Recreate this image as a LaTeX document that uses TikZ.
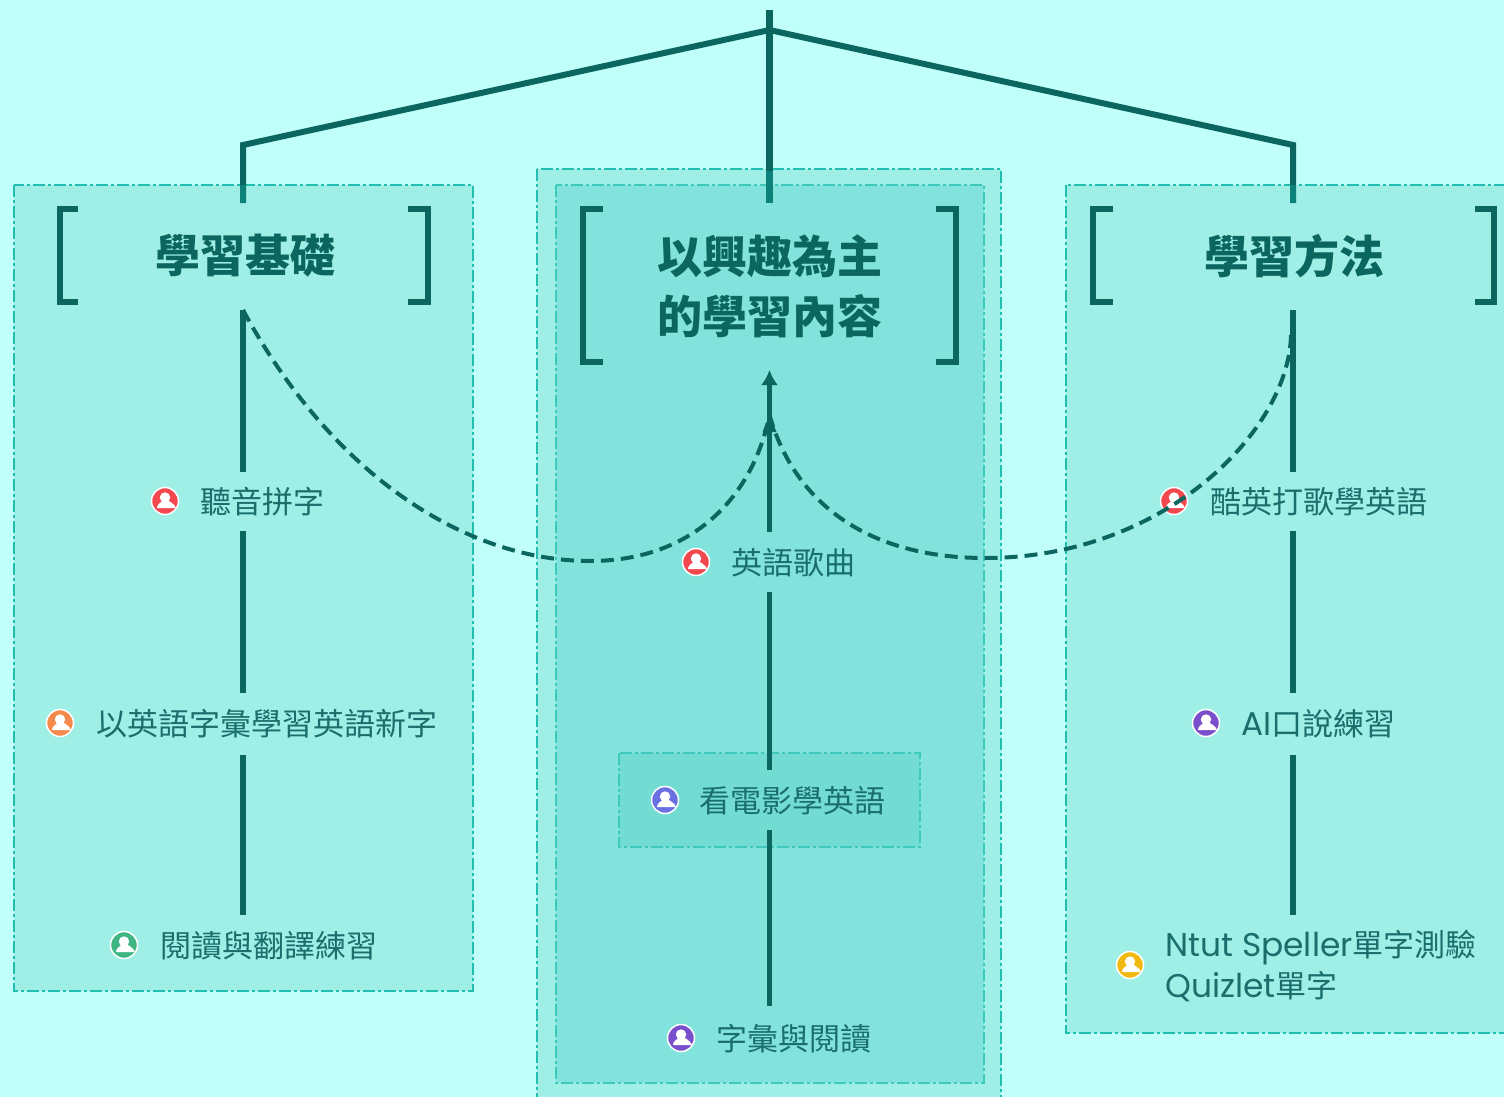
\documentclass[tikz,border=0pt]{standalone}
\usepackage{fontspec}
\setmainfont{Noto Sans CJK TC}
\newfontfamily\latf[Scale=1.06]{Poppins}
\usetikzlibrary{arrows.meta}
\definecolor{bgc}{HTML}{C0FFFA}
\definecolor{panelc}{HTML}{9FEFE7}
\definecolor{innerc}{HTML}{82E3DC}
\definecolor{itemc}{HTML}{72DCD3}
\definecolor{borderc}{HTML}{22BFB0}
\definecolor{innerb}{HTML}{3EC9BD}
\definecolor{linec}{HTML}{0B6660}
\definecolor{tintc}{HTML}{0C827A}
\definecolor{textc}{HTML}{1A6F6C}
\definecolor{cred}{HTML}{F4484F}
\definecolor{corange}{HTML}{F68A4C}
\definecolor{cgreen}{HTML}{3FB682}
\definecolor{cblue}{HTML}{6A70E2}
\definecolor{cpurple}{HTML}{7A4FCB}
\definecolor{cyellow}{HTML}{F1B90F}
\tikzset{
  x=1pt,y=-1pt,
  panel/.style={draw=borderc,line width=2.4pt,dash pattern=on 12pt off 3pt on 3pt off 3pt,fill=#1},
  conn/.style={draw=linec,line width=5.4pt},
  curve/.style={draw=linec,line width=4pt,dash pattern=on 13pt off 7pt},
  bracket/.style={draw=linec,line width=6pt},
  gap/.style={inner sep=0pt,outer sep=0pt,minimum width=0pt,minimum height=#1},
  titletext/.style={inner sep=0pt,text=linec,font=\fontsize{45}{60}\selectfont\bfseries,align=center},
  itemtext/.style={inner sep=0pt,anchor=west,text=textc,font=\fontsize{31}{41}\selectfont,align=left,yshift=-1pt},
  usericon/.style={circle,inner sep=0pt,minimum size=27pt,draw=white,line width=1.5pt,fill=#1,
    path picture={
      \fill[white] ([yshift=3.5pt]path picture bounding box.center) circle (5.2pt);
      \fill[white] ([xshift=-8pt,yshift=-7pt]path picture bounding box.center)
        .. controls +(0,6pt) and +(4pt,2pt) .. ([yshift=1pt]path picture bounding box.center)
        .. controls +(4pt,1pt) and +(8pt,-2pt) .. ([xshift=8pt,yshift=-7pt]path picture bounding box.center) -- cycle;
    }},
}
\newcommand{\ltin}[1]{{\latf #1}}
\begin{document}
\begin{tikzpicture}
\useasboundingbox (0,0) rectangle (1504,1097);
\clip (0,0) rectangle (1504,1097);
\fill[bgc] (0,0) rectangle (1504,1097);
% panels
\path[panel=panelc] (14,185) rectangle (473,991);
\path[panel=panelc] (537,169) rectangle (1001,1120);
\path[panel=innerc,draw=innerb] (556,185) rectangle (984,1083);
\path[panel=panelc] (1066,185) rectangle (1530,1033);
\path[panel=itemc,draw=innerb] (619,753) rectangle (920,847);
% brackets
\draw[bracket] (78,209) -- (60,209) -- (60,302) -- (78,302);
\draw[bracket] (408,209) -- (428,209) -- (428,302) -- (408,302);
\draw[bracket] (603,209) -- (583,209) -- (583,362) -- (603,362);
\draw[bracket] (936,209) -- (956,209) -- (956,362) -- (936,362);
\draw[bracket] (1113,209) -- (1093,209) -- (1093,302) -- (1113,302);
\draw[bracket] (1475,209) -- (1494,209) -- (1494,302) -- (1475,302);
% titles
\node[titletext] (tl) at (245,256) {學習基礎};
\node[titletext] (tc) at (770,286) {以興趣為主\\的學習內容};
\node[titletext] (tr) at (1294,256) {學習方法};
% connector hubs
\coordinate (top) at (769.5,10);
\coordinate (fork) at (769.5,30);
\coordinate (forkl) at (243,145);
\coordinate (forkr) at (1293,145);
\node[gap=107pt] (hl0) at (243,256.5) {};
\node[gap=59pt] (hl1) at (243,501.5) {};
\node[gap=62pt] (hl2) at (243,724) {};
\node[gap=60pt] (hl3) at (243,945) {};
\node[gap=167pt] (hc0) at (769.5,286.5) {};
\node[gap=60pt] (hc1) at (769.5,562) {};
\node[gap=60pt] (hc2) at (769.5,800) {};
\node[gap=62pt] (hc3) at (769.5,1037) {};
\node[gap=107pt] (hr0) at (1293,256.5) {};
\node[gap=59pt] (hr1) at (1293,501.5) {};
\node[gap=62pt] (hr2) at (1293,724) {};
\node[gap=60pt] (hr3) at (1293,945) {};
\coordinate (tintl) at (243,185);
\coordinate (tintc0) at (769.5,171);
\coordinate (tintr) at (1293,185);
% connectors
\draw[conn,line width=6pt,line join=miter] (hl0.north) -- (forkl) -- (fork) -- (forkr) -- (hr0.north);
\draw[conn,line width=7pt] (top) -- (hc0.north);
\draw[conn,line width=6pt,draw=tintc] (tintl) -- (hl0.north);
\draw[conn,line width=7pt,draw=tintc] (tintc0) -- (hc0.north);
\draw[conn,line width=6pt,draw=tintc] (tintr) -- (hr0.north);
\draw[conn] (hl0.south) -- (hl1.north);
\draw[conn] (hl1.south) -- (hl2.north);
\draw[conn] (hl2.south) -- (hl3.north);
\draw[conn] (hr0.south) -- (hr1.north);
\draw[conn] (hr1.south) -- (hr2.north);
\draw[conn] (hr2.south) -- (hr3.north);
\draw[conn,-{Latex[length=15pt,width=17pt]}] (hc1.north) -- (hc0.south);
\draw[conn] (hc2.north) -- (hc1.south);
\draw[conn] (hc3.north) -- (hc2.south);
% items
\node[usericon=cred] (il1) at (165,501) {};
\node[itemtext] (al1) at (200,501) {聽音拼字};
\node[usericon=corange] (il2) at (60,723) {};
\node[itemtext] (al2) at (96,723) {以英語字彙學習英語新字};
\node[usericon=cgreen] (il3) at (124,945) {};
\node[itemtext] (al3) at (160,945) {閱讀與翻譯練習};
\node[usericon=cred] (ic1) at (696,562) {};
\node[itemtext] (ac1) at (731,562) {英語歌曲};
\node[usericon=cblue] (ic2) at (665,800) {};
\node[itemtext] (ac2) at (699,800) {看電影學英語};
\node[usericon=cpurple] (ic3) at (681,1038) {};
\node[itemtext] (ac3) at (716,1038) {字彙與閱讀};
\node[usericon=cred] (ir1) at (1174,501) {};
\node[itemtext] (ar1) at (1210,501) {酷英打歌學英語};
\node[usericon=cpurple] (ir2) at (1206,723) {};
\node[itemtext] (ar2) at (1241,723) {\ltin{AI}口說練習};
\node[usericon=cyellow] (ir3) at (1130,965) {};
\node[itemtext] (ar3) at (1165,965) {\ltin{Ntut Speller}單字測驗\\\ltin{Quizlet}單字};
% dashed curves
\coordinate (cm) at (769.5,415);
\coordinate (cr) at (1291,335);
\draw[curve] (hl0.south) .. controls (335,480) and (470,561) .. (590,561) .. controls (690,561) and (752,500) .. (cm);
\draw[curve] (cr) .. controls (1289,430) and (1165,558) .. (985,558) .. controls (870,558) and (795,505) .. (cm);
\fill[linec] (769.5,415) -- (776.5,432) -- (762.5,432) -- cycle;
\end{tikzpicture}
\end{document}
